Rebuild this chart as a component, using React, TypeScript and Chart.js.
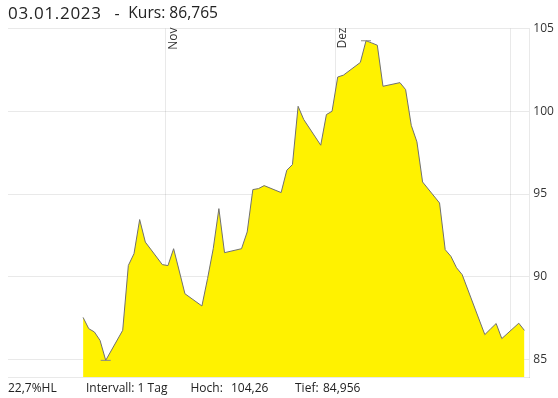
import React, { useEffect, useRef } from "react";
import { Chart, registerables } from "chart.js";

Chart.register(...registerables);

const dates = [
  "2022-10-17", "2022-10-18", "2022-10-19", "2022-10-20", "2022-10-21",
  "2022-10-24", "2022-10-25", "2022-10-26", "2022-10-27", "2022-10-28",
  "2022-10-31", "2022-11-01", "2022-11-02", "2022-11-03", "2022-11-04",
  "2022-11-07", "2022-11-08", "2022-11-09", "2022-11-10", "2022-11-11",
  "2022-11-14", "2022-11-15", "2022-11-16", "2022-11-17", "2022-11-18",
  "2022-11-21", "2022-11-22", "2022-11-23", "2022-11-24", "2022-11-25",
  "2022-11-28", "2022-11-29", "2022-11-30", "2022-12-01", "2022-12-02",
  "2022-12-05", "2022-12-06", "2022-12-07", "2022-12-08", "2022-12-09",
  "2022-12-12", "2022-12-13", "2022-12-14", "2022-12-15", "2022-12-16",
  "2022-12-19", "2022-12-20", "2022-12-21", "2022-12-22", "2022-12-23",
  "2022-12-27", "2022-12-28", "2022-12-29", "2022-12-30",
  "2023-01-02", "2023-01-03",
];

const prices = [
  87.55, 86.87, 86.67, 86.16, 84.956,
  86.77, 90.69, 91.4, 93.46, 92.1,
  90.74, 90.68, 91.7, 90.35, 88.98,
  88.24, 89.9, 91.7, 94.12, 91.46,
  91.7, 92.71, 95.27, 95.33, 95.51,
  95.09, 96.44, 96.78, 100.3, 99.5,
  97.95, 99.8, 100.0, 102.07, 102.18,
  102.95, 104.26, 104.13, 103.99, 101.51,
  101.73, 101.31, 99.15, 98.15, 95.73,
  94.46, 91.64, 91.24, 90.55, 90.13,
  86.51, 86.85, 87.18, 86.27,
  87.2, 86.765,
];

const monthDates = ["2022-11-01", "2022-12-01", "2023-01-01"];
const monthLabels = ["Nov", "Dez", ""];
const yTicks = [85, 90, 95, 100, 105];

const titleItems = [
  { text: "03.01.2023", x: 8, size: 17, spacing: 0.7 },
  { text: "-", x: 114.5, size: 16, spacing: 0 },
  { text: "Kurs: 86,765", x: 128.3, size: 15.6, spacing: 0 },
];
const footerItems = [
  { text: "22,7%HL", x: 8 },
  { text: "Intervall: 1 Tag", x: 86 },
  { text: "Hoch:", x: 190.5 },
  { text: "104,26", x: 231 },
  { text: "Tief:", x: 295 },
  { text: "84,956", x: 323 },
];

const BASE = Date.UTC(2022, 10, 1);
const toX = (s: string, off = 0) => {
  const [y, m, d] = s.split("-").map(Number);
  return (Date.UTC(y, m - 1, d) - BASE) / 86400000 + off;
};

const FONT = '"Open Sans", "Noto Sans", sans-serif';

export default function App() {
  const ref = useRef<HTMLCanvasElement | null>(null);

  useEffect(() => {
    if (!ref.current) return;
    const points = dates.map((d, i) => ({ x: toX(d, 0.4), y: prices[i] }));
    const hi = prices.indexOf(Math.max(...prices));
    const lo = prices.indexOf(Math.min(...prices));

    const monthLabelPlugin = {
      id: "monthLabels",
      afterDraw(chart: any) {
        const ctx = chart.ctx;
        const xs = chart.scales.x;
        ctx.save();
        ctx.font = `12px ${FONT}`;
        ctx.fillStyle = "#333";
        ctx.textAlign = "right";
        ctx.textBaseline = "top";
        monthDates.forEach((m, i) => {
          if (!monthLabels[i]) return;
          const px = xs.getPixelForValue(toX(m));
          ctx.save();
          ctx.translate(px + 1.5, chart.chartArea.top - 1);
          ctx.rotate(-Math.PI / 2);
          ctx.fillText(monthLabels[i], 0, 0);
          ctx.restore();
        });
        ctx.restore();
      },
    };

    const chart = new Chart(ref.current, {
      type: "line",
      data: {
        datasets: [
          {
            data: points,
            borderColor: "#707070",
            borderWidth: 1,
            backgroundColor: "#fff200",
            fill: "start",
            tension: 0,
            pointStyle: "line",
            pointRadius: (c: any) => (c.dataIndex === hi || c.dataIndex === lo ? 5 : 0),
            pointBorderColor: "#888",
            pointBorderWidth: 1,
            pointHoverRadius: 0,
          },
        ],
      },
      options: {
        animation: false,
        responsive: false,
        maintainAspectRatio: false,
        events: [],
        layout: { padding: { left: 8, top: 28.5, right: 0, bottom: 21 } },
        plugins: { legend: { display: false }, tooltip: { enabled: false } },
        scales: {
          x: {
            type: "linear",
            min: -27.87,
            max: 64.26,
            z: 1,
            afterBuildTicks: (s: any) => {
              s.ticks = monthDates.map((m) => ({ value: toX(m) }));
            },
            afterFit: (s: any) => {
              s.height = 0;
            },
            ticks: { display: false },
            grid: { color: "rgba(0,0,0,0.085)", drawTicks: false },
            border: { display: true, color: "rgba(0,0,0,0.085)" },
          },
          y: {
            type: "linear",
            position: "right",
            min: 83.95,
            max: 105,
            z: 1,
            afterBuildTicks: (s: any) => {
              s.ticks = yTicks.map((v) => ({ value: v }));
            },
            afterFit: (s: any) => {
              s.width = 28.7;
            },
            ticks: {
              color: "#333",
              font: { family: FONT, size: 12 },
              padding: 4,
              callback: (v: any) => String(v),
            },
            grid: { color: "rgba(0,0,0,0.085)", drawTicks: false },
            border: { display: true, color: "rgba(0,0,0,0.085)" },
          },
        },
      },
      plugins: [monthLabelPlugin],
    } as any);

    return () => chart.destroy();
  }, []);

  return (
    <div
      style={{
        position: "fixed",
        left: 0,
        top: 0,
        width: 558,
        height: 398,
        background: "#fff",
        overflow: "hidden",
        fontFamily: FONT,
        color: "#222",
      }}
    >
      <canvas
        ref={ref}
        width={558}
        height={398}
        style={{ position: "absolute", left: 0, top: 0, width: 558, height: 398 }}
      />
      {titleItems.map((t, i) => (
        <div
          key={"t" + i}
          style={{
            position: "absolute",
            left: t.x,
            top: 19.3 - 0.888 * t.size,
            fontSize: t.size,
            lineHeight: `${t.size}px`,
            letterSpacing: t.spacing,
            whiteSpace: "pre",
          }}
        >
          {t.text}
        </div>
      ))}
      {footerItems.map((f, i) => (
        <div
          key={"f" + i}
          style={{
            position: "absolute",
            left: f.x,
            top: 382,
            fontSize: 12,
            lineHeight: "12px",
            whiteSpace: "pre",
          }}
        >
          {f.text}
        </div>
      ))}
    </div>
  );
}
